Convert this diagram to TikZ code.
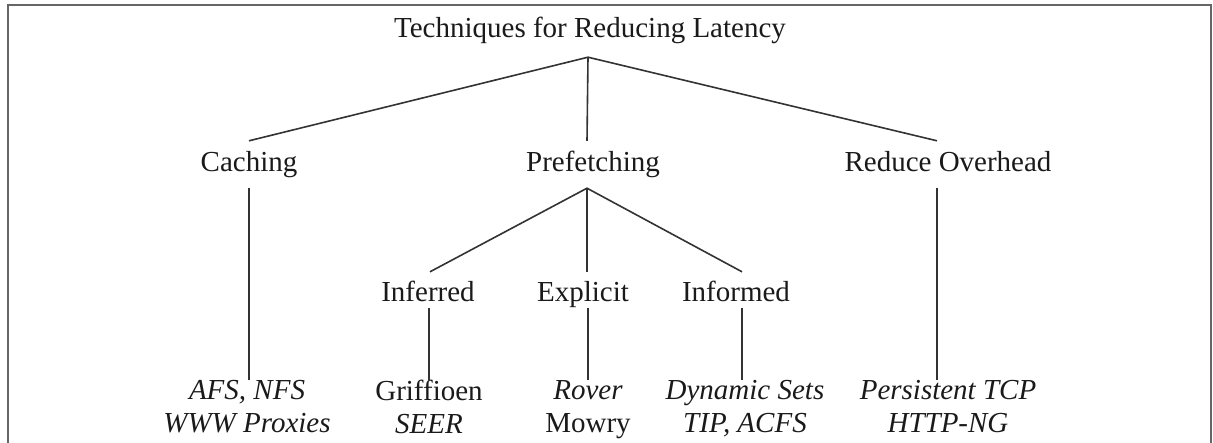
\documentclass[tikz,border=0pt]{standalone}
\usepackage{fontspec}
\setmainfont{Liberation Serif}
\definecolor{ink}{HTML}{1A1A1A}
\definecolor{wire}{HTML}{333333}
\definecolor{frame}{HTML}{666666}
\begin{document}
\begin{tikzpicture}[x=1pt,y=-1pt,
  lbl/.style={inner sep=0pt,anchor=base,text=ink,font=\fontsize{29}{33}\selectfont},
  lvlone/.style={lbl,text height=31pt,text depth=16pt},
  lvltwo/.style={lbl,text height=30pt,text depth=6pt},
  leaf/.style={inner sep=0pt,anchor=north,align=center,text=ink,font=\fontsize{29}{33}\selectfont},
  conn/.style={draw=wire,line width=1.6pt},
  box/.style={draw=frame,line width=1.8pt}]
\useasboundingbox (0,0) rectangle (1213,443);
% frame (open at the bottom)
\draw[box] (8,445) -- (8,5) -- (1211,5) -- (1211,445);
% nodes
\node[lbl,text depth=19pt] (title) at (590,38) {Techniques for Reducing Latency};
\node[lvlone] (caching) at (249,172) {Caching};
\node[lvlone] (prefetch) at (593,172) {Prefetching};
\node[lvlone] (reduce) at (948,172) {Reduce Overhead};
\node[lvltwo] (inferred) at (428,302) {Inferred};
\node[lvltwo] (explicit) at (583,302) {Explicit};
\node[lvltwo] (informed) at (736,302) {Informed};
\node[leaf] (cleaf) at (247,380) {\itshape AFS, NFS\\\itshape WWW Proxies};
\node[leaf] (ileaf) at (429,380) {Griffioen\\\itshape SEER};
\node[leaf] (eleaf) at (588,380) {\itshape Rover\\Mowry};
\node[leaf] (fleaf) at (745,380) {\itshape Dynamic Sets\\\itshape TIP, ACFS};
\node[leaf] (rleaf) at (948,380) {\itshape Persistent TCP\\\itshape HTTP-NG};
% connectors
\coordinate (tapex) at ([xshift=-2pt]title.south);
\draw[conn] (caching.north) -- (tapex) -- ([xshift=-11pt]reduce.north);
\draw[conn] (tapex) -- ([xshift=-6pt]prefetch.north);
\coordinate (papex) at ([xshift=-6pt]prefetch.south);
\draw[conn] ([xshift=2pt]inferred.north) -- (papex) -- ([xshift=6pt]informed.north);
\draw[conn] (papex) -- (papex |- explicit.north);
\draw[conn] (caching.south) -- (caching.south |- cleaf.north);
\draw[conn] ([xshift=1pt]inferred.south) -- ([xshift=1pt]inferred.south |- ileaf.north);
\draw[conn] ([xshift=5pt]explicit.south) -- ([xshift=5pt]explicit.south |- eleaf.north);
\draw[conn] ([xshift=6pt]informed.south) -- ([xshift=6pt]informed.south |- fleaf.north);
\draw[conn] ([xshift=-11pt]reduce.south) -- ([xshift=-11pt]reduce.south |- rleaf.north);
\end{tikzpicture}
\end{document}
